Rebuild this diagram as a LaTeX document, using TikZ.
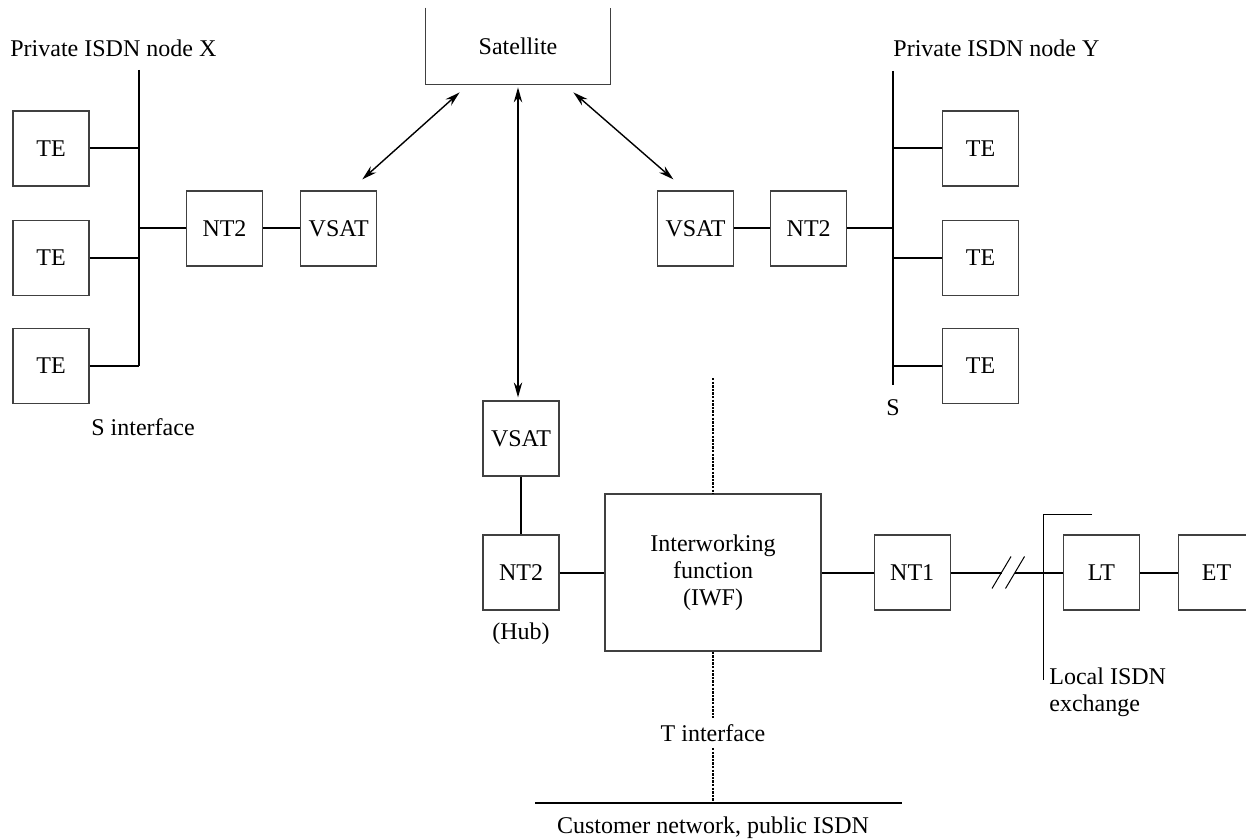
\documentclass[tikz,border=0pt]{standalone}
\usepackage{fontspec}
\setmainfont{Liberation Serif}
\usetikzlibrary{arrows.meta, positioning, calc}

\begin{document}
\begin{tikzpicture}[
        x=0.5pt, y=-0.5pt,
        font=\fontsize{12}{13.5}\selectfont,
        unit_box/.style={
            rectangle,
            draw=black!75,
            line width=0.6pt,
            minimum width=38pt,
            minimum height=37.5pt,
            inner sep=0pt
        },
        label_text/.style={
            inner sep=0pt,
            align=left
        },
        link/.style={
            draw=black,
            line width=1pt
        },
        thin_line/.style={
            draw=black,
            line width=0.5pt
        },
        sat_link/.style={
            {Stealth[length=7.5pt, width=4.2pt]}-{Stealth[length=7.5pt, width=4.2pt]},
            draw=black,
            line width=0.7pt
        },
        iface/.style={
            draw=black,
            line width=1pt,
            dash pattern=on 1.2pt off 0.6pt
        }
    ]
    \useasboundingbox (0,0) rectangle (1246,839);

    % Satellite (open at the top edge of the page)
    \node[minimum width=92pt, minimum height=38pt, inner sep=0pt] (sat) at (518,46) {Satellite};
    \draw[draw=black!75, line width=0.6pt] (sat.north west) -- (sat.south west) -- (sat.south east) -- (sat.north east);

    % Private ISDN node X
    \node[label_text, anchor=west] (titleX) at (10,48) {Private ISDN node X};
    \node[unit_box] (teX1) at (51,148.5) {TE};
    \node[unit_box, below=16.5pt of teX1] (teX2) {TE};
    \node[unit_box, below=16pt of teX2] (teX3) {TE};
    \node[unit_box] (nt2X) at (224.5,228.5) {NT2};
    \node[unit_box, right=18.5pt of nt2X] (vsatX) {VSAT};
    \node[label_text] (sifX) at (143,427) {S interface};
    \coordinate (busXtop) at (139,70);

    % Private ISDN node Y
    \node[label_text, anchor=west] (titleY) at (893,48) {Private ISDN node Y};
    \node[unit_box] (vsatY) at (695.5,228.5) {VSAT};
    \node[unit_box, right=18pt of vsatY] (nt2Y) {NT2};
    \node[unit_box] (teY1) at (980.5,148.5) {TE};
    \node[unit_box, below=16.5pt of teY1] (teY2) {TE};
    \node[unit_box, below=16pt of teY2] (teY3) {TE};
    \coordinate (busYtop) at (893,71);
    \coordinate (busYbot) at (893,385);
    \node[label_text, below=7pt of busYbot] (sifY) {S};

    % Hub and interworking
    \node[unit_box] (vsatH) at (521,438.5) {VSAT};
    \node[unit_box] (nt2H) at (521,572.5) {NT2};
    \node[label_text, below=6pt of nt2H] (hub) {(Hub)};
    \node[unit_box, minimum width=108pt, minimum height=78.5pt, align=center] (iwf) at (713,572.5) {Interworking\\function\\(IWF)};
    \node[unit_box, right=26pt of iwf] (nt1) {NT1};
    \node[unit_box, right=56pt of nt1] (lt) {LT};
    \node[unit_box, right=19pt of lt] (et) {ET};

    % T interface and customer network
    \coordinate (tTop) at (713,378);
    \node[label_text, inner ysep=3pt] (tif) at (713,733) {T interface};
    \coordinate (custL) at (535,803);
    \coordinate (custR) at (902,803);
    \coordinate (custM) at (713,803);
    \node[label_text, below=6.5pt of custM] (cust) {Customer network, public ISDN};

    % Local exchange bracket and line break
    \coordinate (exTop) at (1043,514);
    \coordinate (exEnd) at (1092,514);
    \coordinate (exBot) at (1043,680);
    \node[label_text, anchor=north west] (lexc) at (1049,667) {Local ISDN\\exchange};
    \coordinate (brkA) at (1001.5,572.5);
    \coordinate (brkB) at (1015,572.5);

    % Satellite links
    \draw[sat_link] ([shift={(-7.5pt,5.5pt)}]vsatX.north east) -- ([shift={(17pt,-4pt)}]sat.south west);
    \draw[sat_link] ([yshift=-1.5pt]sat.south) -- ([yshift=1.5pt]sat.south |- vsatH.north);
    \draw[sat_link] ([shift={(-18.5pt,-4pt)}]sat.south east) -- ([shift={(8.25pt,5.5pt)}]vsatY.north west);

    % Bus X
    \draw[link] (busXtop) -- (busXtop |- teX3.east);
    \foreach \t in {teX1,teX2,teX3}
        \draw[link] (\t.east) -- (busXtop |- \t.east);
    \draw[link] (busXtop |- nt2X.west) -- (nt2X.west);
    \draw[link] (nt2X.east) -- (vsatX.west);

    % Bus Y
    \draw[link] (busYtop) -- (busYbot);
    \foreach \t in {teY1,teY2,teY3}
        \draw[link] (\t.west) -- (busYtop |- \t.west);
    \draw[link] (vsatY.east) -- (nt2Y.west);
    \draw[link] (nt2Y.east) -- (busYtop |- nt2Y.east);

    % Hub chain
    \draw[link] (vsatH.south) -- (nt2H.north);
    \draw[link] (nt2H.east) -- (iwf.west);
    \draw[link] (iwf.east) -- (nt1.west);
    \draw[link] (nt1.east) -- (brkA);
    \draw[link] (brkB) -- (lt.west);
    \draw[link] (lt.east) -- (et.west);
    \draw[thin_line] ([shift={(-4.75pt,-8pt)}]brkA) -- ([shift={(4.75pt,8pt)}]brkA);
    \draw[thin_line] ([shift={(-4.75pt,-8pt)}]brkB) -- ([shift={(4.75pt,8pt)}]brkB);
    \draw[thin_line] (exEnd) -- (exTop) -- (exBot);

    % T interface
    \draw[iface] (iwf.north |- tTop) -- (iwf.north);
    \draw[iface] (iwf.south) -- (tif.north);
    \draw[iface] (tif.south) -- (custM);
    \draw[link] (custL) -- (custR);

\end{tikzpicture}
\end{document}
